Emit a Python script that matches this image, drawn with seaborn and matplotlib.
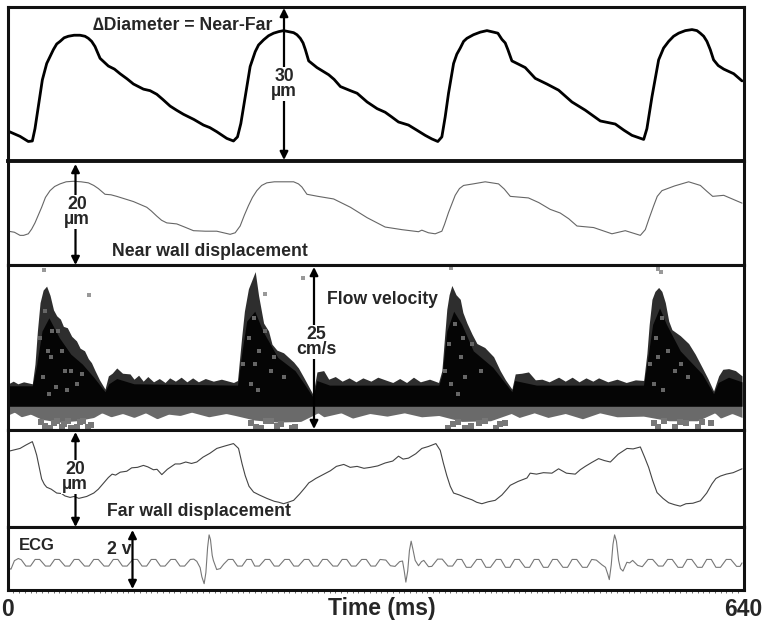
import numpy as np
import seaborn as sns
import matplotlib.pyplot as plt

# all traces as (time in ms, value)
diameter = [(0.7, 5.8), (10.9, 4.8), (18.1, 3.8), (21.6, 3.9), (23.9, 6.3), (26.8, 10.6), (30.3, 15.8), (34.1, 19.0), (39.9, 21.7), (42.8, 22.8), (45.7, 23.3), (49.2, 24), (52.9, 24.3), (57.9, 24.5), (63.1, 24.5), (67.4, 24.3), (70.3, 23.9), (73.2, 23.3), (76.1, 22.3), (78, 21.3), (80.5, 20.0), (87.7, 18.5), (93, 17.9), (97.9, 17), (104, 16), (109.5, 15), (118.2, 14), (124, 13.7), (129.8, 13), (135, 12), (141.4, 10.7), (147, 9.9), (153, 9.1), (162, 8.1), (170.4, 7), (176, 6.5), (182, 5.7), (190.7, 4.4), (196.5, 3.9), (200, 4.7), (202.9, 7.3), (206.7, 12.5), (211, 18.4), (215.4, 21.3), (218.3, 22.6), (222.7, 23.6), (227, 24.4), (231.4, 24.9), (235.8, 25.2), (240.1, 25.4), (244.4, 25.2), (248.8, 25), (251.7, 24.6), (254.6, 23.9), (257, 23), (259, 21.7), (261.9, 19.5), (269.1, 18.2), (279.3, 16.8), (284, 15.9), (289.5, 14.5), (298.2, 13.7), (304, 13.2), (312.7, 11.5), (321.4, 10.2), (328.4, 9.5), (334, 8.6), (340, 7.6), (348.7, 7), (356, 6), (363.2, 5), (369, 4.3), (374.2, 3.8), (377.7, 4.7), (380.6, 8.6), (383.5, 13.2), (387.9, 19), (390.7, 20.8), (393.7, 22), (396.6, 23.3), (399.5, 23.9), (405.2, 24.6), (411.1, 25.1), (416.9, 25.4), (422.7, 25.1), (426.4, 24.9), (429.9, 23.7), (432.8, 23), (435.1, 21.7), (438.6, 19.5), (444, 18.9), (450.2, 18.2), (458.9, 16.1), (469, 15), (479.2, 13.8), (490.8, 11.5), (502.4, 9.9), (515.5, 7.8), (528.5, 7.2), (536, 6), (543, 5), (553.2, 4.2), (556, 6.3), (560.4, 12.5), (566.2, 19.7), (570.5, 22), (574.9, 23.3), (579.2, 24.3), (583.6, 24.9), (589.4, 25.4), (595.2, 25.6), (599.5, 25.4), (602.4, 24.9), (605.4, 24.3), (608.2, 23.3), (611.1, 21.7), (614, 19.7), (618, 18.6), (622.8, 17.9), (631.5, 17), (638.7, 15.6)]

near_wall = [(0.7, 6.5), (6, 6.3), (10.9, 5.7), (14, 5.7), (18.1, 6), (21, 6.9), (23.9, 8.1), (29.7, 11.1), (33, 13), (37, 14.3), (41, 15.1), (45.7, 15.6), (51, 16), (57.3, 16.1), (64, 16), (70.3, 15.8), (75, 15.3), (79, 14.7), (84.8, 13.6), (90, 13.5), (95, 13.2), (109.5, 12.2), (121.1, 11.1), (125, 10.4), (129.8, 9.4), (134, 8.6), (138.5, 8.1), (147.2, 7.9), (154, 7.3), (161.7, 6.6), (172, 6.5), (182, 6.5), (193.6, 5.9), (198, 6.2), (202.3, 7.5), (206, 9.6), (209.5, 11.4), (213, 13), (216.8, 14.3), (221, 15.3), (225.5, 15.8), (232, 16), (248.8, 16), (253, 15.6), (256, 15), (260.4, 13.6), (270, 13.2), (283.6, 12.7), (298.2, 11.1), (312.7, 9.1), (328.4, 7.3), (342.9, 6.8), (357.4, 6.4), (360.3, 6.7), (366, 6.2), (371.9, 6), (377.7, 6.5), (380, 7.8), (383.5, 10.1), (389.3, 13.4), (393, 14.7), (396.6, 15.3), (405, 15.6), (415.4, 16), (427, 15.6), (432, 14.6), (437.2, 13.2), (453, 12.9), (462, 12), (471.9, 10.7), (480.6, 10), (488, 8.9), (495.2, 7.5), (509.7, 7.2), (525.6, 6), (537.2, 6.6), (550.3, 5.7), (554.6, 6.8), (558, 9), (561.9, 11.4), (565, 13.2), (569.1, 14.3), (580, 15.2), (592.3, 16), (602.5, 15.3), (608, 14.2), (613.2, 13.2), (622.8, 13.4), (638.7, 11.9)]

# flow velocity: outer edge of the spectrum, dark core, lower edge
flow_edge = [(0.7, 7), (5, 7.4), (9, 7), (14, 7.3), (21.6, 7), (23.9, 10), (26, 15), (28.3, 19.3), (31, 21.2), (34, 21.8), (37, 20.4), (40, 18.2), (42.8, 17.3), (46, 16.8), (48.6, 15.7), (52, 15.5), (55.8, 14.2), (60, 13.5), (63.1, 12.4), (67, 12), (70.3, 10.8), (73, 10.2), (76.1, 9), (80, 7.6), (84.8, 6.2), (87.7, 8.2), (91, 8.6), (95, 9.4), (100, 8.6), (106.5, 8.5), (110, 7.7), (114, 8.3), (118, 7.4), (122, 8.1), (127, 7.3), (132, 7.8), (137, 7.2), (141, 7.9), (146, 7.4), (151, 8), (156, 7.3), (161, 7.9), (166, 7.3), (172, 7.8), (179, 7.4), (186, 7.7), (196.5, 7.2), (200, 7.5), (203.7, 14.2), (206, 18), (209.5, 21.4), (212, 22.5), (215.4, 24), (218.3, 20.4), (222.7, 16.2), (227, 15), (230, 13), (234.3, 12.1), (240, 11.7), (248.8, 10.3), (253, 9.4), (257.5, 8), (265.6, 5.4), (269.1, 8.8), (274.9, 9), (279.3, 7.7), (285, 8.1), (291, 7.4), (297, 7.9), (303, 7.3), (309, 7.9), (316, 7.4), (322, 8), (328.4, 7.6), (335, 7.2), (341, 7.8), (347, 7.2), (353, 8), (359, 7.3), (367, 7.7), (374.8, 7.2), (377.7, 9), (380, 14), (382, 18.3), (384, 20.5), (386.4, 21.9), (390, 20.5), (393.7, 19.8), (396, 17.8), (399.5, 16.2), (404, 14.5), (408.2, 13.1), (415, 12.5), (422.7, 11.1), (428.4, 9), (433, 7.6), (438.6, 6.2), (441.5, 8.5), (447, 8.6), (453, 8.8), (459, 7.6), (464.7, 7.7), (471, 7.3), (479.2, 8), (485, 7.4), (491, 8), (497, 7.3), (503, 7.9), (509, 7.4), (514, 7.9), (522, 7.3), (530, 7.7), (538, 7.2), (546, 7.6), (553.2, 7.5), (556, 11.6), (558, 16), (560.4, 19.8), (563, 21), (566.2, 21.6), (569, 21), (572, 19.3), (575, 16.5), (577.8, 15.2), (585, 14.3), (592.3, 13.1), (598, 11.5), (604, 9.5), (609, 7.8), (614, 5.9), (618.4, 8.2), (622, 9.2), (627.1, 9.3), (633, 9), (638.7, 8.2)]
flow_core = [(0.7, 6.7), (21.6, 6.7), (25, 9.5), (30, 15), (36, 17), (45, 14), (55, 11.5), (65, 10), (75, 8), (84.8, 5.8), (88, 7), (95, 7.8), (110, 7), (200, 6.8), (204, 12), (208, 16.5), (215, 18), (222, 15), (235, 11), (250, 9), (258, 7), (265.6, 5), (269, 7.5), (280, 6.8), (375, 6.8), (378, 8.5), (382, 15), (388, 18), (395, 16), (405, 12), (422, 9.5), (438.6, 5.8), (441, 7.5), (460, 6.8), (553, 6.8), (556, 10), (561, 16), (567, 18.5), (573, 16), (585, 12), (604, 8.5), (614, 5.5), (618, 7.2), (627, 8), (638.7, 7.3)]
flow_low = [(0.7, 2.3), (6, 2.7), (12, 2.0), (20, 2.4), (30, 1.6), (45, 1.2), (60, 1.4), (75, 1.9), (82, 2.6), (90, 2.0), (100, 2.5), (110, 1.9), (120, 2.6), (130, 1.7), (140, 2.4), (150, 2.2), (160, 2.7), (175, 2.0), (190, 2.5), (198, 2.2), (215, 1.5), (235, 1.2), (255, 1.3), (270, 2.6), (275, 2.0), (290, 2.6), (300, 1.8), (315, 2.5), (330, 2.1), (345, 2.6), (360, 2.0), (375, 2.2), (395, 1.3), (420, 1.4), (438, 2.5), (445, 1.9), (458, 2.6), (470, 1.9), (485, 2.5), (500, 1.7), (515, 2.6), (530, 2.0), (553, 2.1), (575, 1.4), (600, 1.4), (615, 2.6), (620, 1.8), (630, 2.5), (638.7, 1.9)]
band_floor = 3.6
# grey blobs below the band, stray dots above it, pale flecks inside the peaks
blobs = [(29, 1.2), (33, 0.6), (37, 0.3), (40, 1.1), (43, 1.4), (47, 0.4), (49, 0.9), (53, 1.3), (55, 0.3), (60, 0.5), (63, 1.2), (66, 1.4), (70, 0.4), (73, 0.8), (212, 1.1), (216, 0.5), (220, 0.3), (225, 1.3), (229, 1.4), (234, 0.6), (238, 0.9), (247, 0.3), (250, 0.5), (383, 0.3), (387, 0.9), (392, 1.2), (398, 0.3), (403, 0.6), (410, 1.1), (415, 1.3), (425, 0.3), (428, 0.9), (433, 1.1), (562, 1.0), (566, 0.5), (571, 1.3), (580, 0.5), (585, 1.2), (590, 1.0), (600, 0.5), (604, 1.2), (612, 1.1)]
stray = [(32, 24.2), (71, 20.4), (224, 20.6), (257, 23.0), (386, 24.6), (566, 24.4), (568, 23.9)]
flecks = [(28, 14), (33, 18), (38, 11), (44, 15), (50, 9), (31, 8), (36, 5.5), (42, 6.5), (47, 12), (55, 9), (60, 7), (39, 15), (35, 12), (52, 6), (65, 8.5), (205, 10), (210, 14), (214, 17), (219, 12), (224, 15), (229, 9), (212, 7), (218, 6), (232, 11), (215, 10), (240, 8), (384, 13), (389, 16), (394, 11), (398, 8), (404, 13), (386, 7), (392, 5.5), (412, 9), (396, 14), (380, 9), (559, 10), (564, 14), (569, 17), (574, 12), (580, 9), (562, 7), (570, 6), (586, 10), (566, 11), (592, 8)]

far_wall = [(0.7, 15.6), (6, 15.9), (10.9, 16.2), (16, 16.9), (21.6, 17.6), (23.5, 16.3), (25.4, 14.8), (27.5, 12.4), (29.7, 9.9), (32, 8.8), (34.1, 8.2), (38, 7.8), (42.8, 7), (47, 6.9), (50, 6.4), (54.4, 6.1), (58, 6.3), (62, 5.9), (68.9, 6.3), (75, 7), (79, 7.8), (83, 8.9), (87.7, 10.2), (91, 10.9), (94, 10.7), (98, 11.3), (103.7, 11.5), (108, 12.2), (113, 12.3), (118.2, 12.7), (122, 12.4), (126.9, 11.8), (130, 11.9), (134.2, 10.8), (139, 11.9), (145.8, 13), (150, 13), (155, 13.4), (160, 13.1), (164.6, 13.4), (170, 14.4), (176, 15.2), (182, 16.2), (189, 16.7), (196.5, 17.2), (200.9, 16.2), (204, 13), (206.7, 10.6), (210, 8.4), (214, 7.2), (219, 6.6), (225.5, 5.9), (232, 5.3), (236, 5.1), (240.1, 4.8), (244, 5.1), (248.8, 5.5), (254, 6.8), (259, 8.2), (262, 9.1), (264.8, 9.5), (268, 10), (272, 10.5), (276, 11), (280.8, 11.6), (286, 12.5), (292.4, 12.9), (298, 12.3), (304, 12.5), (310, 12.1), (315.6, 12.3), (322, 12.6), (328.4, 13.2), (335, 13.6), (340, 14.6), (344, 14), (348.7, 14.2), (355, 15.1), (360.3, 16.2), (366, 16.6), (372.5, 17.2), (376.3, 15.8), (379, 13.2), (382, 10.6), (385, 8.4), (387.9, 7), (393, 6.6), (398, 6.1), (404, 5.6), (408, 5.1), (412.5, 4.8), (418, 5.2), (424.1, 5.5), (429.9, 6.6), (434, 7.7), (437.2, 8.6), (444, 9.4), (451.7, 10.1), (454.5, 11.1), (460, 10.9), (466, 11.2), (473.4, 11.1), (479.2, 12), (486, 11.1), (493.7, 10.9), (498, 11.8), (502.4, 12.5), (508, 13.3), (514, 14.1), (519, 13.7), (524.2, 13.4), (531, 15), (538.7, 16.2), (544, 16.1), (550.3, 16.5), (554, 14.4), (557.5, 12.3), (561, 9.6), (564.8, 7.1), (570, 5.9), (574.9, 5), (580, 4.6), (585, 4.3), (590, 4.8), (596, 4.9), (602.5, 5.4), (608, 7), (612.6, 8.9), (616, 10), (619.9, 10.5), (625, 10.9), (631, 11.2), (638.7, 12)]

# ECG with short flat tops, as the wave is round in the picture
ecg = [(0.7, 0.7), (3, 0.66), (6, 0.93), (9.4, 1.0), (12, 0.96), (16, 0.76), (20, 0.76), (24, 0.97), (28, 0.97), (33, 0.76), (37, 0.76), (41, 0.97), (45, 0.97), (50, 0.76), (54, 0.76), (58, 0.97), (62, 0.97), (67, 0.76), (71, 0.76), (75, 0.97), (79, 0.97), (84, 0.76), (88, 0.76), (92, 0.97), (96, 0.97), (100, 0.76), (104, 0.76), (109, 0.97), (113, 0.97), (117, 0.76), (121, 0.76), (125, 0.97), (129, 0.97), (133, 0.76), (137, 0.76), (142, 0.97), (146, 0.97), (150, 0.76), (154, 0.76), (159, 0.97), (162, 0.98), (164.6, 0.91), (167.5, 0.71), (169, 0.42), (171, 0.2), (172.5, 0.55), (174, 1.35), (175.3, 1.75), (176.5, 1.6), (178, 1.1), (179, 0.94), (181.9, 0.65), (185, 0.68), (188, 0.82), (192, 0.97), (196, 0.97), (200, 0.76), (204, 0.76), (208, 0.97), (212, 0.97), (215, 0.76), (219, 0.76), (224, 0.97), (228, 0.97), (232, 0.76), (236, 0.76), (241, 0.97), (245, 0.97), (249, 0.76), (253, 0.76), (258, 0.97), (262, 0.97), (266, 0.76), (270, 0.76), (274, 0.97), (278, 0.97), (283, 0.76), (287, 0.76), (291, 0.97), (295, 0.97), (299, 0.76), (303, 0.76), (308, 0.97), (312, 0.97), (316, 0.76), (320, 0.76), (324, 0.97), (329, 0.95), (333, 0.77), (337, 0.75), (341, 0.9), (343.5, 0.92), (345, 0.6), (346.4, 0.25), (348, 0.6), (349.5, 1.25), (351, 1.55), (352.5, 1.3), (354.5, 0.94), (357.4, 0.77), (360, 0.9), (362, 0.94), (366.1, 0.74), (369, 0.75), (374, 0.98), (378, 0.98), (383, 0.76), (387, 0.76), (391, 0.97), (395, 0.97), (399, 0.72), (403, 0.72), (408, 0.97), (412, 0.97), (416, 0.72), (420, 0.72), (425, 0.97), (429, 0.97), (433, 0.72), (437, 0.72), (441, 0.97), (445, 0.97), (450, 0.72), (454, 0.72), (458, 0.97), (462, 0.97), (466, 0.72), (470, 0.72), (474, 0.97), (478, 0.97), (483, 0.72), (487, 0.72), (491, 0.97), (495, 0.97), (500, 0.72), (504, 0.72), (508, 0.97), (512, 0.95), (516.9, 0.8), (520, 0.72), (522, 0.5), (523.3, 0.33), (525, 0.8), (526.5, 1.45), (527.9, 1.75), (529.5, 1.55), (531.4, 0.94), (533, 0.68), (535.2, 0.6), (538.6, 0.88), (541, 0.86), (543.6, 0.94), (548, 0.78), (552, 0.74), (557, 0.97), (561, 0.97), (566, 0.76), (570, 0.76), (574, 0.97), (578, 0.97), (583, 0.72), (587, 0.72), (591, 0.97), (595, 0.97), (600, 0.72), (604, 0.72), (608, 0.97), (612, 0.97), (616, 0.72), (620, 0.72), (625, 0.97), (629, 0.97), (634, 0.75), (637, 0.75), (638.7, 0.86)]

sns.set_style('white')
plt.rcParams['font.family'] = ['Liberation Sans', 'DejaVu Sans']
plt.rcParams['font.weight'] = 'bold'

W, H = 770, 624
fig = plt.figure(figsize=(W / 100, H / 100), dpi=100)


def panel(top, bottom, ymax, lw=2.2):
    ax = fig.add_axes([7.5 / W, 1 - bottom / H, 736 / W, (bottom - top) / H])
    ax.set_xlim(0, 640)
    ax.set_ylim(0, ymax)
    ax.set_xticks([])
    ax.set_yticks([])
    for s in ax.spines.values():
        s.set_color('#111111')
        s.set_linewidth(lw)
    return ax


def trace(ax, pts, color, lw):
    xs, ys = zip(*pts)
    sns.lineplot(x=list(xs), y=list(ys), ax=ax, color=color, lw=lw, sort=False, estimator=None,
                 solid_joinstyle='round')


def dots(ax, pts, color, size):
    xs, ys = zip(*pts)
    sns.scatterplot(x=list(xs), y=list(ys), ax=ax, color=color, marker='s', s=size, linewidth=0)


ax1 = panel(7, 161, 30)
trace(ax1, diameter, 'black', 2.0)

ax2 = panel(161, 265, 20)
trace(ax2, near_wall, '#666666', 0.8)
ax2.spines['top'].set_linewidth(2.8)

ax3 = panel(265, 430, 25)
t = np.linspace(0.7, 638.7, 640)
low_t, low_v = zip(*flow_low)
edge_t, edge_v = zip(*flow_edge)
core_t, core_v = zip(*flow_core)
ax3.fill_between(t, np.interp(t, low_t, low_v), band_floor, color='#6a6a6a', lw=0)
ax3.fill_between(edge_t, band_floor, edge_v, color='#2e2e2e', lw=0)
ax3.fill_between(core_t, band_floor, core_v, color='#050505', lw=0)
dots(ax3, blobs, '#777777', 16)
dots(ax3, stray, '#999999', 5)
dots(ax3, flecks, '#666666', 5)

ax4 = panel(430, 527, 20)
trace(ax4, far_wall, '#444444', 0.8)

ax5 = panel(527, 590, 2)
trace(ax5, ecg, '#777777', 0.8)
ax5.set_xticks([0, 640])
ax5.set_xticklabels(['0', '640'], fontsize=16.5, fontweight='bold')
ax5.set_xticks(np.arange(0, 641, 5), minor=True)
ax5.tick_params(axis='x', which='minor', bottom=True, length=2.5, width=0.6, color='#555555')
ax5.tick_params(axis='x', which='major', bottom=False, pad=2.4)
# seaborn hides the label when the axes had no ticks at draw time
ax5.set_xlabel('Time (ms)', fontsize=16.5, fontweight='bold', va='center', visible=True)
ax5.xaxis.set_label_coords(0.509, -0.286)

# labels and arrows live on a pixel overlay
over = fig.add_axes([0, 0, 1, 1])
over.set_xlim(0, W)
over.set_ylim(H, 0)
over.axis('off')


def arrow(x, y0, y1):
    over.annotate('', xy=(x, y0), xytext=(x, y1),
                  arrowprops=dict(arrowstyle='<|-|>', color='black', lw=1.6, shrinkA=0, shrinkB=0, mutation_scale=12))


def label(x, y, s, size=12.7, box=False):
    over.text(x, y, s, fontsize=size, fontweight='bold', ha='center', va='center', linespacing=0.9,
              bbox=dict(fc='white', ec='none', pad=0.5) if box else None)


arrow(284, 8, 160)
arrow(75.5, 164, 265)
arrow(314, 267, 429)
arrow(75.5, 432, 527)
arrow(132.5, 530, 589)

label(183, 25, '\u2206Diameter = Near-Far')
label(284, 84, '30\n\u00b5m', box=True)
label(77, 212, '20\n\u00b5m', box=True)
label(210, 252, 'Near wall displacement')
label(382.5, 299, 'Flow velocity')
label(316, 342, '25\ncm/s', box=True)
label(75, 477, '20\n\u00b5m', box=True)
label(199, 512, 'Far wall displacement')
label(37, 545, 'ECG', size=12)
label(119, 549, '2 v')

fig.savefig('out.png', dpi=100)
